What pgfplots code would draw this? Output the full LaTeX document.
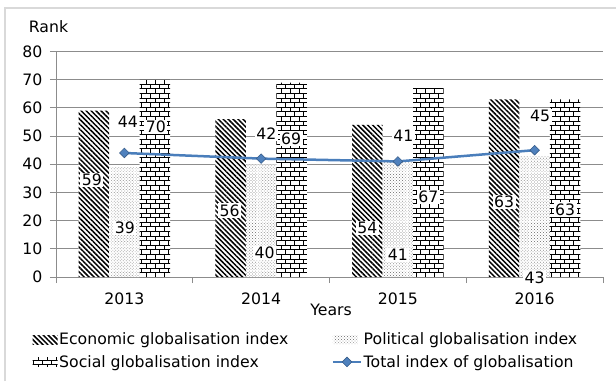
\documentclass[border=0pt]{standalone}
\usepackage{pgfplots}
\pgfplotsset{compat=1.18}
\usepackage{fontspec}
\setmainfont{DejaVu Sans}
\usetikzlibrary{patterns.meta}
\definecolor{linecol}{HTML}{4A7EBB}
\definecolor{markfill}{HTML}{4F81BD}
\definecolor{markdraw}{HTML}{385D8A}
\definecolor{gridc}{HTML}{8C8C8C}
\definecolor{borderc}{HTML}{D9D9D9}
\newcommand\cf{\fontsize{15.7}{18}\selectfont}
\tikzdeclarepattern{
  name=mybricks,
  type=uncolored,
  bottom left={(-0.1pt,-0.1pt)},
  top right={(9.1pt,9.3pt)},
  tile size={(9pt,9.2pt)},
  code={
    \draw[line width=1pt] (-0.1pt,2.3pt) -- (9.1pt,2.3pt)
      (-0.1pt,6.9pt) -- (9.1pt,6.9pt)
      (2.25pt,2.3pt) -- (2.25pt,6.9pt)
      (6.75pt,6.9pt) -- (6.75pt,9.3pt)
      (6.75pt,-0.1pt) -- (6.75pt,2.3pt);
  }
}
\pgfplotsset{
  patleg/.style={legend image code/.code={\fill[##1] (0pt,-4.5pt) rectangle (25pt,4.5pt);}},
  lineleg/.style={legend image code/.code={\draw[mark repeat=2,mark phase=2,##1] plot coordinates {(0pt,0pt) (14pt,0pt) (28pt,0pt)};}},
}
\begin{document}
\begin{tikzpicture}[x=1pt,y=1pt,font=\cf]
\useasboundingbox (0,0) rectangle (616,381);
\draw[borderc, line width=1.5pt] (5,0) -- (5,373) -- (616,373);
\begin{axis}[
  at={(56pt,104pt)}, anchor=south west,
  scale only axis, width=547pt, height=225.5pt,
  xmin=-0.5, xmax=3.5, ymin=0, ymax=80,
  xtick={-0.5,0.5,1.5,2.5,3.5}, x tick label as interval,
  xticklabels={2013,2014,2015,2016},
  ytick={0,10,...,80},
  ymajorgrids, grid style={gridc, line width=0.8pt},
  axis x line*=bottom, axis y line*=left,
  axis line style={gridc, line width=0.8pt},
  tick style={gridc, line width=0.8pt},
  tick align=outside, major tick length=6pt,
  ticklabel style={font=\cf},
  /pgf/number format/assume math mode=true,
  yticklabel style={xshift=-4pt},
  xticklabel style={yshift=-6pt},
  clip=false,
  xlabel={Years}, ylabel={Rank},
  x label style={at={(axis description cs:0.503,-0.146)}, anchor=center, font=\cf},
  y label style={at={(axis description cs:-0.0137,1.109)}, rotate=-90, anchor=center, font=\cf},
  legend columns=2, legend cell align=left,
  legend style={at={(axis description cs:-0.043,-0.24)}, anchor=north west, draw=none, fill=none,
    font=\cf, inner sep=0pt, row sep=6pt, nodes={inner sep=1.5pt},
    /tikz/every even column/.append style={column sep=42pt}},
]
\addplot[ybar, bar width=30.5pt, bar shift=-30.5pt, draw=none, fill=white,
  postaction={pattern={Lines[angle=-45, distance=3.5pt, line width=1.5pt]}, pattern color=black}, patleg]
  coordinates {(0,59) (1,56) (2,54) (3,63)};
\addlegendentry{Economic globalisation index}
\addplot[ybar, bar width=30.5pt, bar shift=0pt, draw=none, fill=white,
  postaction={pattern={Dots[distance=2.1pt, radius=0.5pt, angle=45]}, pattern color=black!50}, patleg]
  coordinates {(0,39) (1,40) (2,41) (3,43)};
\addlegendentry{Political globalisation index}
\addplot[ybar, bar width=30.5pt, bar shift=30.5pt, draw=none, fill=white,
  postaction={pattern=mybricks, pattern color=black}, patleg]
  coordinates {(0,70) (1,69) (2,67) (3,63)};
\addlegendentry{Social globalisation index}
\addplot[linecol, line width=2.5pt, mark=square*, mark size=3.4pt,
  mark options={rotate=45, fill=markfill, draw=markdraw, line width=0.6pt}, lineleg]
  coordinates {(0,44) (1,42) (2,41) (3,45)};
\addlegendentry{Total index of globalisation}
% data labels
\tikzset{lab/.style={fill=white, inner sep=1.5pt, font=\cf}}
\node[lab] at (axis cs:-0.237,34.4) {59};
\node[lab] at (axis cs:0.004,17.4) {39};
\node[lab] at (axis cs:0.026,55.0) {44};
\node[lab] at (axis cs:0.230,53.2) {70};
\node[lab] at (axis cs:0.770,23.5) {56};
\node[lab] at (axis cs:1.026,8.5) {40};
\node[lab] at (axis cs:1.038,51.0) {42};
\node[lab] at (axis cs:1.220,49.2) {69};
\node[lab] at (axis cs:1.777,17.4) {54};
\node[lab] at (axis cs:2.0,7.8) {41};
\node[lab] at (axis cs:2.04,50.0) {41};
\node[lab] at (axis cs:2.223,28.4) {67};
\node[lab] at (axis cs:2.777,26.6) {63};
\node[lab] at (axis cs:3.0,-0.35) {43};
\node[lab] at (axis cs:3.04,57.1) {45};
\node[lab] at (axis cs:3.223,23.8) {63};
\end{axis}
\end{tikzpicture}
\end{document}
